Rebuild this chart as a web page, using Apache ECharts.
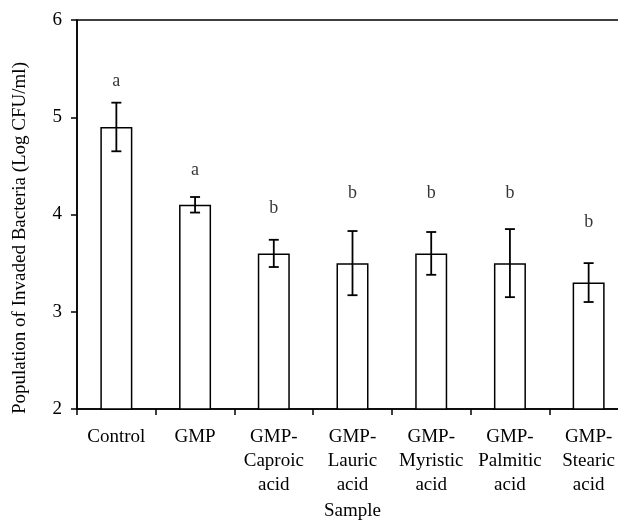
<!DOCTYPE html>
<html>
<head>
<meta charset="utf-8">
<script src="https://cdn.jsdelivr.net/npm/echarts@6/dist/echarts.min.js"></script>
<style>
html,body{margin:0;padding:0;background:#fff;}
#chart{width:618px;height:520px;}
</style>
</head>
<body>
<div id="chart"></div>
<script>
// 样本名称
var categories = ['Control', 'GMP', 'GMP-\nCaproic\nacid', 'GMP-\nLauric\nacid', 'GMP-\nMyristic\nacid', 'GMP-\nPalmitic\nacid', 'GMP-\nStearic\nacid'];
// 平均值 (Log CFU/ml)
var means = [4.90, 4.10, 3.60, 3.50, 3.60, 3.50, 3.30];
// 误差 (±)
var errors = [0.25, 0.08, 0.14, 0.33, 0.22, 0.35, 0.20];
// 显著性字母及其位置
var letters = ['a', 'a', 'b', 'b', 'b', 'b', 'b'];
var letterY = [5.37, 4.45, 4.06, 4.22, 4.22, 4.22, 3.92];

var font = 'Liberation Serif';
var myChart = echarts.init(document.getElementById('chart'));

var errData = [];
for (var i = 0; i < means.length; i++) {
  errData.push([i, means[i] - errors[i], means[i] + errors[i]]);
}
var letterData = [];
for (var j = 0; j < letters.length; j++) {
  letterData.push([j, letterY[j]]);
}

var option = {
  animation: false,
  backgroundColor: '#fff',
  grid: {
    left: 77, top: 20, right: -10, bottom: 111,
    outerBoundsMode: 'none',
    containLabel: false,
    show: true, borderColor: '#000', borderWidth: 1.5, backgroundColor: 'transparent'
  },
  xAxis: {
    type: 'category',
    data: categories,
    name: 'Sample',
    nameLocation: 'middle',
    nameGap: 92,
    nameTextStyle: { fontFamily: font, fontSize: 19, color: '#000' },
    axisLine: { lineStyle: { color: '#000', width: 1.5 } },
    axisTick: { show: true, length: 6, lineStyle: { color: '#000', width: 1.5 } },
    axisLabel: { fontFamily: font, fontSize: 19, color: '#000', lineHeight: 24, margin: 16, interval: 0 }
  },
  yAxis: {
    type: 'value',
    min: 2, max: 6, interval: 1,
    axisLine: { show: true, lineStyle: { color: '#000', width: 1.5 } },
    axisTick: { show: true, length: 6, lineStyle: { color: '#000', width: 1.5 } },
    axisLabel: { fontFamily: font, fontSize: 19, color: '#000', margin: 15 },
    splitLine: { show: false }
  },
  graphic: [{
    type: 'text',
    x: 20, y: 238,
    rotation: Math.PI / 2,
    style: {
      text: 'Population of Invaded Bacteria (Log CFU/ml)',
      font: '19px "Liberation Serif"',
      fill: '#000',
      textAlign: 'center',
      textVerticalAlign: 'middle'
    }
  }],
  series: [{
    type: 'bar',
    data: means,
    barWidth: 32,
    itemStyle: { color: '#fff', borderColor: '#000', borderWidth: 1.5 }
  }, {
    type: 'custom',
    data: errData,
    renderItem: function (params, api) {
      var x = api.value(0);
      var lo = api.coord([x, api.value(1)]);
      var hi = api.coord([x, api.value(2)]);
      var w = 5;
      var st = { stroke: '#000', lineWidth: 1.8 };
      return {
        type: 'group',
        children: [
          { type: 'line', shape: { x1: lo[0], y1: lo[1], x2: hi[0], y2: hi[1] }, style: st },
          { type: 'line', shape: { x1: lo[0] - w, y1: lo[1], x2: lo[0] + w, y2: lo[1] }, style: st },
          { type: 'line', shape: { x1: hi[0] - w, y1: hi[1], x2: hi[0] + w, y2: hi[1] }, style: st }
        ]
      };
    },
    z: 5
  }, {
    type: 'scatter',
    data: letterData,
    symbolSize: 0,
    label: {
      show: true,
      position: 'inside',
      fontFamily: font,
      fontSize: 18,
      color: '#000',
      formatter: function (p) { return letters[p.dataIndex]; }
    }
  }]
};
myChart.setOption(option);
</script>
</body>
</html>
